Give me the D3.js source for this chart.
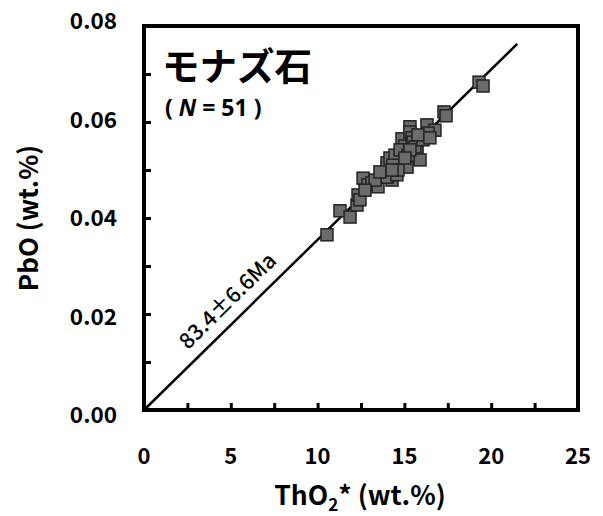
<!DOCTYPE html>
<html>
<head>
<meta charset="utf-8">
<script src="https://cdn.jsdelivr.net/npm/d3@7"></script>
<style>
  body { margin: 0; background: #fff; }
  svg text { font-family: "Noto Sans CJK JP", "Noto Sans", sans-serif; }
</style>
</head>
<body>
<div id="chart"></div>
<script>
// monazite analyses
let tho2 = [10.54, 11.29, 11.87, 12.27, 12.33, 12.62, 12.90, 13.13, 13.48, 13.88,
            14.00, 14.29, 14.00, 14.17, 14.57, 13.77, 14.00, 14.57, 14.86, 15.15,
            14.86, 15.03, 15.32, 15.32, 15.44, 15.50, 15.73, 15.90, 16.30, 16.76,
            16.36, 17.28, 17.40, 19.30, 19.53, 14.46, 14.75, 15.21, 14.34, 14.63,
            15.61, 13.31, 13.59, 15.32, 16.07, 15.78, 12.44, 12.73, 14.29, 15.03, 16.47];
let pbo = [0.0365, 0.0415, 0.0402, 0.0427, 0.0448, 0.0483, 0.0469, 0.0473, 0.0465, 0.0485,
           0.0506, 0.0479, 0.0515, 0.0525, 0.0521, 0.0494, 0.0485, 0.0490, 0.0510, 0.0506,
           0.0565, 0.0550, 0.0590, 0.0579, 0.0567, 0.0558, 0.0538, 0.0521, 0.0594, 0.0583,
           0.0577, 0.0621, 0.0613, 0.0683, 0.0675, 0.0531, 0.0542, 0.0531, 0.0510, 0.0500,
           0.0548, 0.0479, 0.0496, 0.0542, 0.0563, 0.0573, 0.0438, 0.0458, 0.0500, 0.0525, 0.0567];

let xTicks = [0, 5, 10, 15, 20, 25];
let yTicks = [0, 0.02, 0.04, 0.06, 0.08];
let isoSlope = 0.003547;   // PbO / ThO2* for the isochron
let isoEnd = 21.5;
let isoLabel = '83.4\u00b16.6Ma';

let width = 603;
let height = 516;
let m = {left: 144, right: 25, top: 26, bottom: 106};

let x = d3.scaleLinear().domain([0, 25]).range([m.left, width - m.right]);
let y = d3.scaleLinear().domain([0, 0.08]).range([height - m.bottom, m.top]);
// the y labels sit a little wider apart than the ticks
let yLab = d3.scaleLinear().domain([0, 0.08]).range([415, 21]);

let svg = d3.select('#chart').append('svg')
            .attr('width', width)
            .attr('height', height);

// inward minor ticks
let xAx = d3.axisTop(x).tickValues(d3.range(2.5, 25, 2.5)).tickSize(7).tickFormat('');
let yAx = d3.axisRight(y).tickValues(d3.range(0.01, 0.08, 0.01)).tickSize(7).tickFormat('');

svg.append('g').attr('transform', `translate(0,${y(0)})`).call(xAx)
   .call(g => g.select('.domain').remove())
   .selectAll('line').attr('stroke-width', 3);
svg.append('g').attr('transform', `translate(${x(0)},0)`).call(yAx)
   .call(g => g.select('.domain').remove())
   .selectAll('line').attr('stroke-width', 3);

// tick labels
svg.append('g').selectAll('text')
   .data(xTicks)
   .join('text')
     .attr('x', d => x(d))
     .attr('y', 464)
     .attr('text-anchor', 'middle')
     .attr('font-size', 22)
     .attr('font-weight', 'bold')
     .text(d => d);

svg.append('g').selectAll('text')
   .data(yTicks)
   .join('text')
     .attr('x', 117)
     .attr('y', d => yLab(d) + 8)
     .attr('text-anchor', 'end')
     .attr('font-size', 22.5)
     .attr('font-weight', 'bold')
     .text(d => d.toFixed(2));

// isochron line
svg.append('line')
   .attr('x1', x(0)).attr('y1', y(0))
   .attr('x2', x(isoEnd)).attr('y2', y(isoSlope * isoEnd))
   .attr('stroke', '#000')
   .attr('stroke-width', 2.5);

let ang = Math.atan2(y(isoSlope) - y(0), x(1) - x(0)) * 180 / Math.PI;
svg.append('text')
   .attr('transform', `translate(${x(5.6)},${y(isoSlope * 5.6)}) rotate(${ang})`)
   .attr('y', -12)
   .attr('text-anchor', 'middle')
   .attr('font-size', 21.5)
   .attr('font-weight', 500)
   .text(isoLabel);

// points
svg.append('g').selectAll('rect')
   .data(d3.range(tho2.length))
   .join('rect')
     .attr('x', i => x(tho2[i]) - 6)
     .attr('y', i => y(pbo[i]) - 6)
     .attr('width', 12)
     .attr('height', 12)
     .attr('fill', '#6b6b6b')
     .attr('stroke', '#222')
     .attr('stroke-width', 1.5);

// frame
svg.append('rect')
   .attr('x', x(0)).attr('y', y(0.08))
   .attr('width', x(25) - x(0))
   .attr('height', y(0) - y(0.08))
   .attr('fill', 'none')
   .attr('stroke', '#000')
   .attr('stroke-width', 4);

// title
svg.append('text')
   .attr('x', 162).attr('y', 80)
   .attr('font-size', 37.5)
   .attr('font-weight', 'bold')
   .text('モナズ石');

let nt = svg.append('text')
   .attr('x', 165).attr('y', 116)
   .attr('font-size', 23)
   .attr('font-weight', 'bold')
   .style('font-family', '"Noto Sans", sans-serif');
nt.append('tspan').text('( ');
nt.append('tspan').attr('font-style', 'italic').text('N');
nt.append('tspan').text(' = 51 )');

// axis titles
let xt = svg.append('text')
   .attr('x', 360).attr('y', 505)
   .attr('text-anchor', 'middle')
   .attr('font-size', 26.5)
   .attr('font-weight', 'bold');
xt.append('tspan').text('ThO');
xt.append('tspan').attr('font-size', 17).attr('dy', 6).text('2');
xt.append('tspan').attr('dy', -6).text('* (wt.%)');

svg.append('text')
   .attr('transform', `translate(38,${y(0.04)}) rotate(-90)`)
   .attr('text-anchor', 'middle')
   .attr('font-size', 26)
   .attr('font-weight', 'bold')
   .text('PbO (wt.%)');
</script>
</body>
</html>
